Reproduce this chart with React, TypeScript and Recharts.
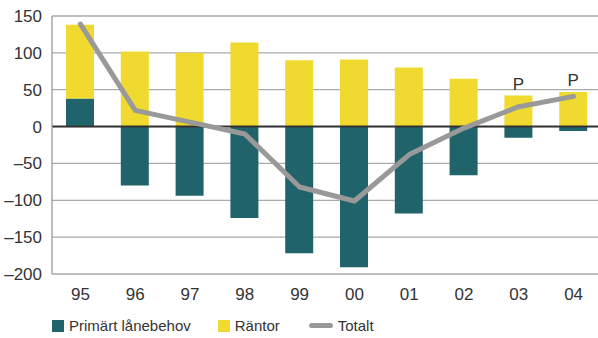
import React from "react";
import {
  ComposedChart,
  Bar,
  Line,
  XAxis,
  YAxis,
  CartesianGrid,
  Legend,
  ReferenceLine,
  LabelList,
} from "recharts";

const years = ["95", "96", "97", "98", "99", "00", "01", "02", "03", "04"];
const primart = [38, -80, -94, -124, -172, -191, -118, -66, -15, -6];
const rantor = [100, 102, 100, 114, 90, 91, 80, 65, 42, 47];
const totalt = [139, 22, 6, -10, -82, -101, -38, -2, 27, 41];
const notes = ["", "", "", "", "", "", "", "", "P", "P"];
const yTicks = [-200, -150, -100, -50, 0, 50, 100, 150];

const data = years.map((year, i) => ({
  year,
  primart: primart[i],
  rantor: rantor[i],
  totalt: totalt[i],
  note: notes[i],
}));

const TEAL = "#21636a";
const YELLOW = "#f0da2f";
const GREY = "#999999";
const FONT = "'Liberation Sans', Arial, sans-serif";

const formatTick = (v: number) => (v < 0 ? "\u2013" + Math.abs(v) : String(v));

const LegendContent = () => (
  <div
    style={{
      display: "flex",
      alignItems: "center",
      paddingLeft: 52,
      paddingTop: 9,
      fontFamily: FONT,
      fontSize: 15,
      color: "#333",
    }}
  >
    <span style={{ width: 12, height: 12, background: TEAL, marginRight: 5 }} />
    <span style={{ marginRight: 27 }}>Primärt lånebehov</span>
    <span style={{ width: 12, height: 12, background: YELLOW, marginRight: 5 }} />
    <span style={{ marginRight: 29 }}>Räntor</span>
    <span
      style={{
        width: 24,
        height: 5,
        borderRadius: 3,
        background: GREY,
        marginRight: 5,
      }}
    />
    <span>Totalt</span>
  </div>
);

export default function App() {
  return (
    <div
      style={{
        position: "absolute",
        left: 0,
        top: 0,
        width: 598,
        height: 338,
        overflow: "hidden",
        background: "#fff",
      }}
    >
      <ComposedChart
        width={601}
        height={338}
        data={data}
        stackOffset="sign"
        margin={{ top: 16, right: 0, left: 0, bottom: 0 }}
      >
        <CartesianGrid vertical={false} stroke="#aaa" strokeWidth={1.3} />
        <XAxis
          dataKey="year"
          axisLine={false}
          tickLine={false}
          height={34}
          tickMargin={8}
          tick={{ fill: "#333", fontSize: 17, fontFamily: FONT }}
          padding={{ left: 1, right: 0 }}
        />
        <YAxis
          width={52}
          domain={[-200, 150]}
          ticks={yTicks}
          interval={0}
          tickFormatter={formatTick}
          axisLine={{ stroke: "#999", strokeWidth: 1.3 }}
          tickLine={false}
          tickSize={10}
          tickMargin={0}
          tick={{ fill: "#333", fontSize: 17, fontFamily: FONT }}
        />
        <Legend verticalAlign="bottom" height={30} content={<LegendContent />} />
        <Bar
          dataKey="primart"
          name="Primärt lånebehov"
          stackId="a"
          fill={TEAL}
          barSize={28}
          isAnimationActive={false}
        />
        <Bar
          dataKey="rantor"
          name="Räntor"
          stackId="a"
          fill={YELLOW}
          barSize={28}
          isAnimationActive={false}
        >
          <LabelList
            dataKey="note"
            position="top"
            offset={6}
            fill="#333"
            fontSize={17}
            fontFamily={FONT}
          />
        </Bar>
        <ReferenceLine y={0} stroke="#333" strokeWidth={2} />
        <Line
          dataKey="totalt"
          name="Totalt"
          type="linear"
          stroke={GREY}
          strokeWidth={5}
          strokeLinecap="round"
          strokeLinejoin="round"
          dot={false}
          activeDot={false}
          isAnimationActive={false}
        />
      </ComposedChart>
    </div>
  );
}
